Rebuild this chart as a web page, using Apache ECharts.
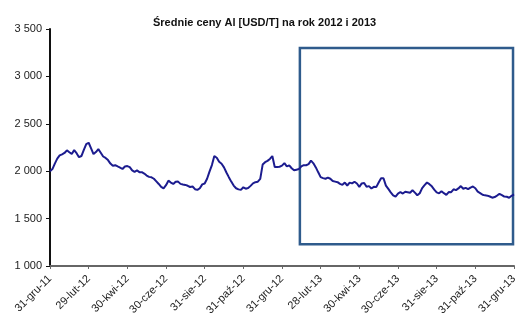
<!DOCTYPE html>
<html>
<head>
<meta charset="utf-8">
<script src="https://cdn.jsdelivr.net/npm/echarts@6/dist/echarts.min.js"></script>
<style>
  html, body { margin: 0; padding: 0; background: #fff; }
  #chart { width: 520px; height: 318px; }
</style>
</head>
<body>
<div id="chart"></div>
<script>
// tick labels, one every 16 points
var tickLabels = ['31-gru-11', '29-lut-12', '30-kwi-12', '30-cze-12', '31-sie-12', '31-paź-12', '31-gru-12',
  '28-lut-13', '30-kwi-13', '30-cze-13', '31-sie-13', '31-paź-13', '31-gru-13']
var pointsPerTick = 16

// średnie ceny Al [USD/T]
var prices = [
  2000, 2022, 2080, 2132, 2166, 2177, 2192, 2220, 2200, 2182, 2222, 2190,
  2148, 2160, 2225, 2285, 2300, 2240, 2180, 2202, 2232, 2195, 2155, 2140,
  2117, 2080, 2057, 2063, 2050, 2038, 2023, 2050, 2054, 2043, 2008, 1992,
  2008, 1990, 1990, 1975, 1954, 1940, 1935, 1920, 1893, 1865, 1834, 1818,
  1852, 1900, 1880, 1865, 1889, 1890, 1866, 1860, 1855, 1846, 1833, 1838,
  1810, 1803, 1820, 1861, 1870, 1920, 1996, 2064, 2160, 2142, 2099, 2079,
  2040, 1986, 1937, 1890, 1848, 1820, 1808, 1803, 1830, 1815, 1822, 1845,
  1871, 1884, 1889, 1918, 2070, 2095, 2109, 2129, 2160, 2045, 2045, 2047,
  2058, 2085, 2050, 2061, 2031, 2009, 2016, 2022, 2050, 2063, 2063, 2074,
  2111, 2083, 2040, 1988, 1937, 1927, 1920, 1932, 1920, 1896, 1890, 1884,
  1866, 1856, 1880, 1849, 1879, 1871, 1889, 1870, 1835, 1871, 1875, 1835,
  1842, 1817, 1835, 1832, 1880, 1925, 1925, 1848, 1813, 1777, 1745, 1731,
  1763, 1780, 1764, 1783, 1778, 1773, 1799, 1774, 1746, 1767, 1822, 1853,
  1881, 1863, 1840, 1806, 1776, 1766, 1789, 1768, 1750, 1780, 1778, 1809,
  1800, 1818, 1843, 1815, 1824, 1810, 1827, 1838, 1820, 1784, 1769, 1751,
  1745, 1742, 1733, 1720, 1727, 1743, 1761, 1748, 1732, 1730, 1720, 1740,
  1755
]

// ramka wyróżnienia (indeks punktu, USD/T)
var boxX = [103.4, 191.6]
var boxY = [1230, 3300]

var chart = echarts.init(document.getElementById('chart'))

var option = {
  animation: false,
  title: {
    text: 'Średnie ceny Al [USD/T] na rok 2012 i 2013',
    left: 148,
    top: 12,
    textStyle: {
      fontFamily: 'Liberation Sans',
      fontSize: 11,
      fontWeight: 'bold',
      color: '#111'
    }
  },
  grid: {
    left: 50,
    right: 4,
    top: 29,
    bottom: 50
  },
  xAxis: {
    type: 'value',
    min: 0,
    max: (tickLabels.length - 1) * pointsPerTick,
    interval: pointsPerTick,
    splitLine: { show: false },
    axisLine: { lineStyle: { color: '#666', width: 2 } },
    axisTick: { length: 3, lineStyle: { color: '#666' } },
    axisLabel: {
      rotate: 45,
      margin: 11,
      fontFamily: 'Liberation Sans',
      fontSize: 11,
      color: '#222',
      showMaxLabel: true,
      formatter: function (v) {
        return tickLabels[Math.round(v / pointsPerTick)]
      }
    }
  },
  yAxis: {
    type: 'value',
    min: 1000,
    max: 3500,
    interval: 500,
    splitLine: { show: false },
    axisLine: { show: true, lineStyle: { color: '#111', width: 2 } },
    axisTick: { show: true, length: 4, lineStyle: { color: '#111' } },
    axisLabel: {
      margin: 8,
      fontFamily: 'Liberation Sans',
      fontSize: 11,
      color: '#222',
      formatter: function (v) {
        return String(v).replace(/\B(?=(\d{3})+(?!\d))/g, ' ')
      }
    }
  },
  series: [{
    type: 'line',
    data: prices.map(function (v, i) { return [i, v] }),
    showSymbol: false,
    lineStyle: { color: '#1c1c8f', width: 2 },
    markArea: {
      silent: true,
      itemStyle: {
        color: 'rgba(0,0,0,0)',
        borderColor: '#2f5b8c',
        borderWidth: 2.5
      },
      data: [[
        { xAxis: boxX[0], yAxis: boxY[1] },
        { xAxis: boxX[1], yAxis: boxY[0] }
      ]]
    }
  }]
}

chart.setOption(option)
</script>
</body>
</html>
